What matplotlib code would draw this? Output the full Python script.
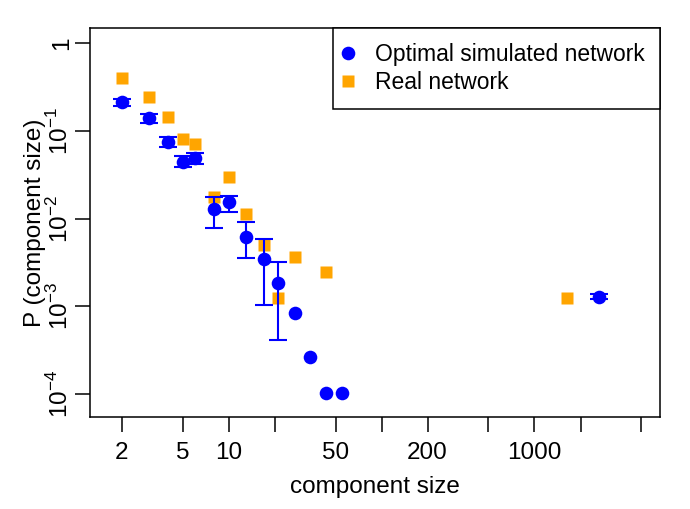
import matplotlib
matplotlib.use("Agg")
import matplotlib.pyplot as plt

plt.rcParams["font.family"] = ["Liberation Sans", "DejaVu Sans"]
plt.rcParams["mathtext.fontset"] = "custom"
plt.rcParams["mathtext.rm"] = "Liberation Sans"

# simulated network (mean and error bar bounds, None = no error bar)
sim_size = [2, 3, 4, 5, 6, 8, 10, 13, 17, 21, 27, 34, 43, 55, 2650]
sim_p = [0.213, 0.140, 0.0756, 0.0448, 0.0489, 0.0128, 0.0153, 0.00625,
         0.00345, 0.00184, 0.000838, 0.000264, 0.000104, 0.000103, 0.00129]
sim_lo = [0.1945, 0.1245, 0.0653, 0.0386, 0.0421, 0.00792, 0.01186, 0.00355,
          0.00105, 0.000416, None, None, None, None, 0.00121]
sim_hi = [0.232, 0.1564, 0.0862, 0.0519, 0.0557, 0.01758, 0.01834, 0.00927,
          0.00584, 0.00324, None, None, None, None, 0.00138]

# real network
real_size = [2, 3, 4, 5, 6, 8, 10, 13, 17, 21, 27, 43, 1630]
real_p = [0.399, 0.246, 0.1435, 0.0818, 0.0706, 0.01786, 0.0302, 0.01125,
          0.00502, 0.00124, 0.00370, 0.00248, 0.00124]

xticks = [2, 5, 10, 20, 50, 100, 200, 500, 1000, 2000, 5000]
xlabels = ["2", "5", "10", "", "50", "", "200", "", "1000", "", ""]
yticks = [1, 0.1, 0.01, 0.001, 0.0001]
ylabels = ["1", r"$10^{-1}$", r"$10^{-2}$", r"$10^{-3}$", r"$10^{-4}$"]

fig = plt.figure(figsize=(6.9, 5.09), dpi=100)
ax = fig.add_axes([90 / 690, 1 - 417 / 509, 570 / 690, 389 / 509])

h_real, = ax.plot(real_size, real_p, "s", color="orange", ms=8.3, mec="none",
                  zorder=2)

# error bars only where bounds exist
eb = [i for i in range(len(sim_size)) if sim_lo[i] is not None]
ex = [sim_size[i] for i in eb]
ey = [sim_p[i] for i in eb]
yerr = [[sim_p[i] - sim_lo[i] for i in eb], [sim_hi[i] - sim_p[i] for i in eb]]
ax.errorbar(ex, ey, yerr=yerr, fmt="none", ecolor="blue", elinewidth=1.5,
            capsize=6.7, capthick=1.5, zorder=3)
h_sim, = ax.plot(sim_size, sim_p, "o", color="blue", ms=9.8, mec="none",
                 zorder=4)

ax.set_xscale("log")
ax.set_yscale("log")
ax.set_xlim(1.24, 6620)
ax.set_ylim(5.5e-5, 1.49)

ax.set_xticks(xticks)
ax.set_xticklabels(xlabels)
ax.set_yticks(yticks)
ax.set_yticklabels(ylabels, rotation=90, va="center")
ax.minorticks_off()
ax.tick_params(axis="both", direction="out", length=11, width=1.1,
               labelsize=17.5)
ax.tick_params(axis="x", pad=7)
ax.tick_params(axis="y", pad=1.5)

for s in ax.spines.values():
    s.set_linewidth(1.1)

ax.set_xlabel("component size", fontsize=17.5, labelpad=9)
ax.set_ylabel("P (component size)", fontsize=17.5)
ax.yaxis.set_label_coords(-44 / 570, 0.5)

leg = ax.legend([h_sim, h_real], ["Optimal simulated network", "Real network"],
                loc="upper right", fontsize=16.5, frameon=True, fancybox=False,
                edgecolor="black", framealpha=1, borderaxespad=0,
                borderpad=0.65, handlelength=0.05, handletextpad=1.15,
                labelspacing=0.22)
leg.get_frame().set_linewidth(1.1)

fig.savefig("out.png", dpi=100)
